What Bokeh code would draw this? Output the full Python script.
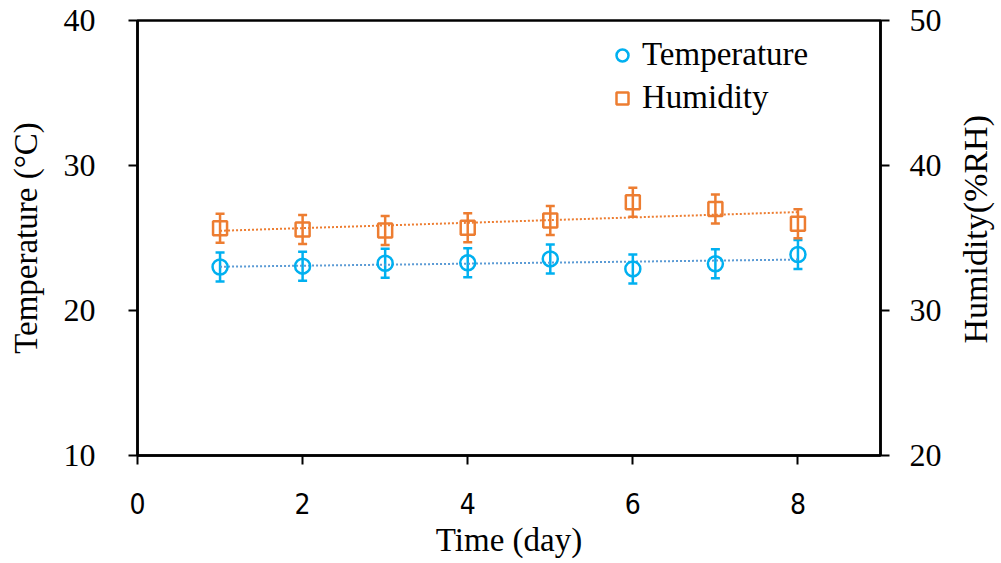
import numpy as np
from bokeh.plotting import figure
from bokeh.layouts import row
from bokeh.models import (Range1d, LinearAxis, FixedTicker, ColumnDataSource,
                          Whisker, TeeHead, Legend, LegendItem, Label)
from bokeh.embed import file_html
from bokeh.resources import INLINE

# ---- data ----
days = [1, 2, 3, 4, 5, 6, 7, 8]
temperature = [23.0, 23.06, 23.26, 23.29, 23.56, 22.87, 23.22, 23.86]
temperature_err = [1.0, 1.0, 1.0, 1.0, 1.0, 1.0, 1.0, 1.0]
humidity = [35.68, 35.59, 35.52, 35.70, 36.20, 37.47, 37.00, 35.98]
humidity_err = [1.0, 1.0, 1.0, 1.0, 1.0, 1.0, 1.0, 1.0]
x_ticks = [0, 2, 4, 6, 8]
temp_ticks = [10, 20, 30, 40]
hum_ticks = [20, 30, 40, 50]

TEMP_C = "#00B0F0"
TEMP_TREND = "#5B9BD5"
HUM_C = "#ED7D31"
SERIF = "Liberation Serif"
FS = "32px"
FS_L = "33px"
BORDER_TOP = 20
BORDER_BOTTOM = 108

p = figure(width=950, height=563, output_backend="svg", toolbar_location=None,
           x_range=Range1d(0, 9), y_range=Range1d(10, 40),
           min_border_left=137, min_border_right=70,
           min_border_top=BORDER_TOP, min_border_bottom=BORDER_BOTTOM)
p.extra_y_ranges = {"hum": Range1d(20, 50)}
p.grid.visible = False
p.outline_line_color = "black"
p.outline_line_width = 2.5
p.background_fill_color = "white"
p.border_fill_color = "white"

# axes styling
xa = p.xaxis[0]
xa.ticker = FixedTicker(ticks=x_ticks)
xa.axis_label = "Time (day)"
ya = p.yaxis[0]
ya.ticker = FixedTicker(ticks=temp_ticks)
ya.axis_label = "Temperature (\u00b0C)"
ra = LinearAxis(y_range_name="hum", ticker=FixedTicker(ticks=hum_ticks))
p.add_layout(ra, "right")

for ax in (xa, ya, ra):
    ax.axis_line_color = "black"
    ax.axis_line_width = 2.5
    ax.major_tick_line_color = "black"
    ax.major_tick_line_width = 2
    ax.major_tick_in = 0
    ax.major_tick_out = 9
    ax.minor_tick_line_color = None
    ax.major_label_text_font = SERIF
    ax.major_label_text_font_size = FS
    ax.major_label_text_color = "black"
    ax.axis_label_text_font = SERIF
    ax.axis_label_text_font_size = FS_L
    ax.axis_label_text_font_style = "normal"
    ax.axis_label_text_color = "black"

xa.major_label_text_font = "DejaVu Sans Condensed, Liberation Sans"
xa.major_label_text_font_size = "28px"
xa.major_label_standoff = 28
xa.axis_label_standoff = 5
ya.major_label_standoff = 33
ya.axis_label_standoff = 17
ra.major_label_standoff = 20

# trend lines (linear fits of the data)
d = np.array(days, dtype=float)
tf = np.polyfit(d, np.array(temperature), 1)
hf = np.polyfit(d, np.array(humidity), 1)
xe = [days[0], days[-1]]
p.line(xe, [tf[0] * v + tf[1] for v in xe], line_color=TEMP_TREND,
       line_width=2, line_dash="2 2")
p.line(xe, [hf[0] * v + hf[1] for v in xe], line_color=HUM_C,
       line_width=2, line_dash="2 2", y_range_name="hum")

# error bars
ts = ColumnDataSource(dict(x=days, y=temperature,
                           lo=[a - b for a, b in zip(temperature, temperature_err)],
                           hi=[a + b for a, b in zip(temperature, temperature_err)]))
hs = ColumnDataSource(dict(x=days, y=humidity,
                           lo=[a - b for a, b in zip(humidity, humidity_err)],
                           hi=[a + b for a, b in zip(humidity, humidity_err)]))
for src, col, rng in ((ts, TEMP_C, "default"), (hs, HUM_C, "hum")):
    w = Whisker(source=src, base="x", lower="lo", upper="hi", dimension="height",
                line_color=col, line_width=2.5, y_range_name=rng,
                upper_head=TeeHead(size=9, line_color=col, line_width=2.5),
                lower_head=TeeHead(size=9, line_color=col, line_width=2.5))
    p.add_layout(w)

tr = p.scatter("x", "y", source=ts, marker="circle", size=15, fill_color=None,
               line_color=TEMP_C, line_width=2.5)
hr = p.scatter("x", "y", source=hs, marker="square", size=14, fill_color=None,
               line_color=HUM_C, line_width=2.5, y_range_name="hum")

legend = Legend(items=[LegendItem(label="Temperature", renderers=[tr]),
                       LegendItem(label="Humidity", renderers=[hr])],
                location=(470, 339), border_line_color=None,
                background_fill_alpha=0, label_text_font=SERIF,
                label_text_font_size=FS_L, label_text_color="black",
                label_height=36, glyph_height=36,
                glyph_width=30, spacing=6, padding=4, margin=0,
                label_standoff=5)
p.add_layout(legend, "center")

# narrow strip carrying the right-hand axis title (reads bottom to top)
p2 = figure(width=50, height=563, output_backend="svg", toolbar_location=None,
            x_range=Range1d(0, 1), y_range=Range1d(0, 1),
            min_border_left=0, min_border_right=0,
            min_border_top=BORDER_TOP, min_border_bottom=BORDER_BOTTOM)
p2.grid.visible = False
p2.outline_line_color = None
p2.xaxis.visible = False
p2.yaxis.visible = False
p2.background_fill_color = "white"
p2.border_fill_color = "white"
p2.add_layout(Label(x=0.50, y=0.52, text="Humidity(%RH)", angle=float(np.pi / 2),
                    text_align="center", text_baseline="middle",
                    text_font=SERIF, text_font_size="34px", text_color="black"))

layout = row(p, p2)
open("out.html", "w").write(file_html(layout, INLINE))
